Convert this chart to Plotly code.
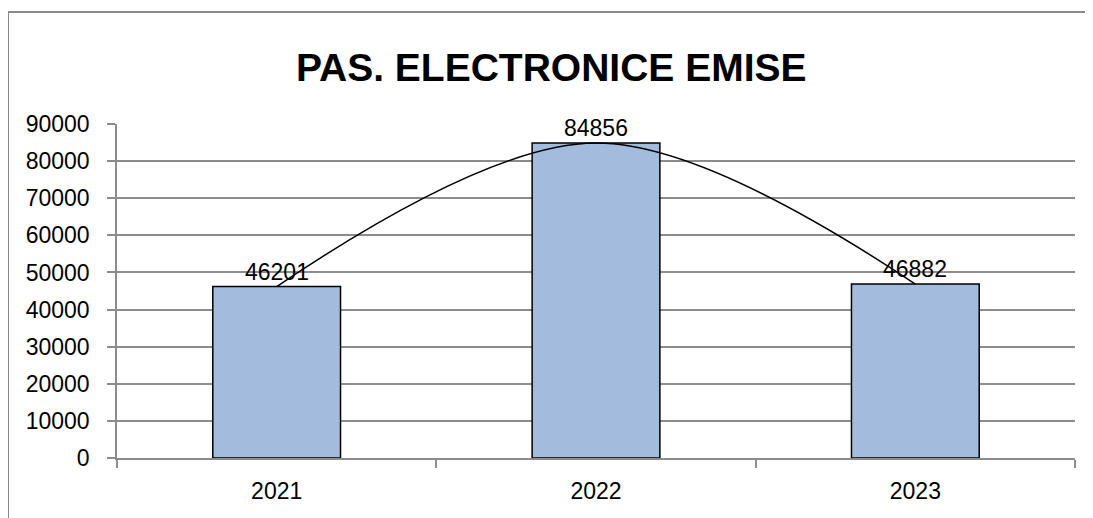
import plotly.graph_objects as go

years = ["2021", "2022", "2023"]
values = [46201, 84856, 46882]
y_ticks = [0, 10000, 20000, 30000, 40000, 50000, 60000, 70000, 80000, 90000]
title_text = "PAS. ELECTRONICE EMISE"

FONT = "Liberation Sans"
GRID = "#8C8C8C"

fig = go.Figure()
fig.add_trace(go.Bar(
    x=years, y=values, width=0.4,
    marker=dict(color="#A3BBDC", line=dict(color="black", width=1.5)),
    showlegend=False, hoverinfo="skip",
))
fig.add_trace(go.Scatter(
    x=years, y=values, mode="lines",
    line=dict(color="black", width=1.5, shape="spline", smoothing=1.0),
    showlegend=False, hoverinfo="skip",
))

annotations = [dict(x=i, y=v, xref="x", yref="y", text=str(v), showarrow=False,
                    yanchor="bottom", yshift=0,
                    font=dict(family=FONT, size=23, color="black"))
               for i, v in enumerate(values)]

fig.update_layout(
    width=1093, height=518,
    margin=dict(l=109, r=26, t=116, b=68),
    paper_bgcolor="white", plot_bgcolor="white",
    title=dict(text="<b>" + title_text + "</b>", x=0.497, xanchor="center",
               y=0.886, yanchor="middle",
               font=dict(family=FONT, size=39, color="black")),
    font=dict(family=FONT, size=23, color="black"),
    xaxis=dict(type="category", range=[-0.5, 2.5], showgrid=False,
               showline=True, linecolor=GRID, linewidth=1.5,
               ticks="outside", tickson="boundaries", ticklen=8,
               tickcolor=GRID, tickwidth=1.5, ticklabelstandoff=12,
               tickfont=dict(family=FONT, size=23, color="black")),
    yaxis=dict(range=[0, 90000], tickvals=y_ticks,
               ticktext=[str(t) for t in y_ticks],
               showgrid=True, gridcolor=GRID, gridwidth=1.5,
               showline=True, linecolor=GRID, linewidth=1.5,
               ticks="outside", ticklen=8, tickcolor=GRID, tickwidth=1.5,
               ticklabelstandoff=13, zeroline=False,
               tickfont=dict(family=FONT, size=23, color="black")),
    annotations=annotations,
    shapes=[dict(type="line", xref="paper", yref="paper",
                 x0=(8 - 117) / 958, x1=(1100 - 117) / 958,
                 y0=(458 - 12) / 334, y1=(458 - 12) / 334,
                 line=dict(color="#8A8A8A", width=2)),
            dict(type="line", xref="paper", yref="paper",
                 x0=(8 - 117) / 958, x1=(8 - 117) / 958,
                 y0=(458 - 12) / 334, y1=(458 - 526) / 334,
                 line=dict(color="#8A8A8A", width=2))],
)

fig.write_html("out.html")
